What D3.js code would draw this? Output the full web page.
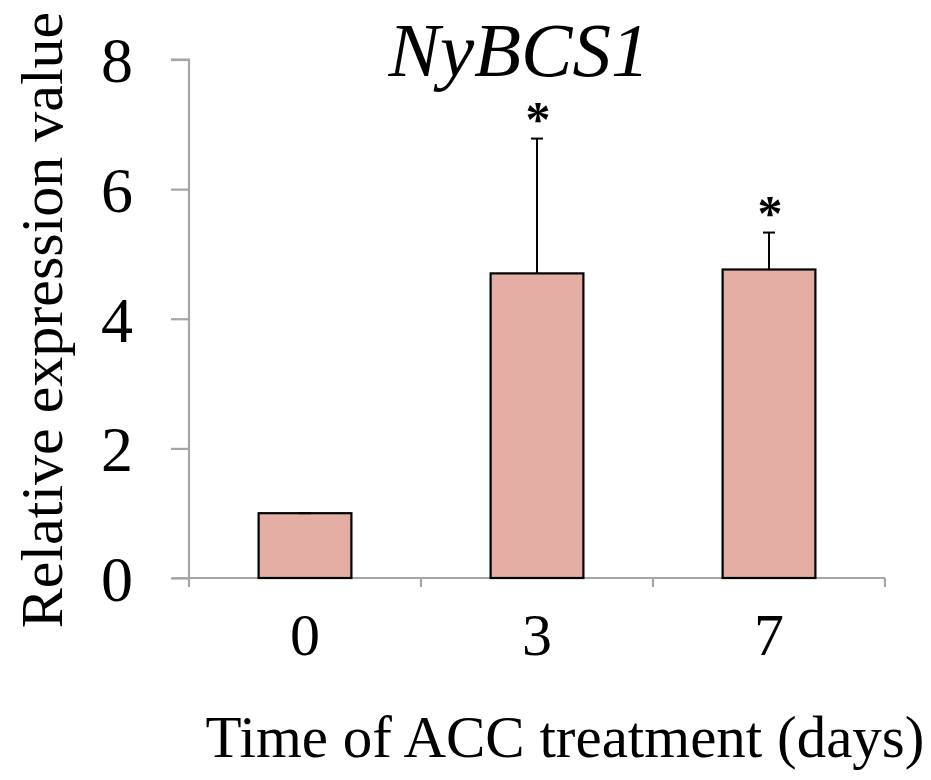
<!DOCTYPE html>
<html>
<head>
<meta charset="utf-8">
<script src="https://cdn.jsdelivr.net/npm/d3@7"></script>
<style>
  html, body { margin: 0; padding: 0; background: #fff; }
  svg { display: block; }
  text { font-family: "Liberation Serif", "Times New Roman", serif; fill: #000; }
</style>
</head>
<body>
<svg id="chart" width="931" height="780"></svg>
<script>
// ---- data ----
const categories = ["0", "3", "7"];
const values = [1.0, 4.70, 4.76];
const errors = [0.0, 2.08, 0.57];
const significant = [false, true, true];
const yTicks = [0, 2, 4, 6, 8];
const title = "NyBCS1";
const yLabel = "Relative expression value";
const xLabel = "Time of ACC treatment (days)";

// ---- layout ----
const svg = d3.select("#chart");
const x0 = 189, x1 = 885, yBase = 578, yTop = 59.5;

const x = d3.scaleBand().domain(categories).range([x0, x1])
  .paddingInner(0.6).paddingOuter(0.3);
const y = d3.scaleLinear().domain([0, 8]).range([yBase, yTop]);

const axisColor = "#a6a6a6";

// y axis
const yAxis = d3.axisLeft(y).tickValues(yTicks).tickSize(18).tickPadding(38)
  .tickFormat(d3.format("d"));
const gy = svg.append("g").attr("transform", `translate(${x0},0)`).call(yAxis);
gy.select(".domain").attr("stroke", axisColor).attr("stroke-width", 2.2)
  .attr("d", `M-18,${yTop}H0V${yBase}`);
gy.selectAll(".tick line").attr("stroke", axisColor).attr("stroke-width", 2.2);
gy.selectAll(".tick text").attr("font-size", 64).attr("font-family", "Liberation Serif")
  .attr("dy", "0.35em").attr("fill", "#000");

// x axis (ticks at band boundaries)
const boundaries = categories.map(c => x(c) - x.step() * x.paddingInner() / 2).concat([x1]);
boundaries[0] = x0;
const gx = svg.append("g");
gx.append("line").attr("x1", 172).attr("x2", x1).attr("y1", yBase).attr("y2", yBase)
  .attr("stroke", axisColor).attr("stroke-width", 2.2);
gx.selectAll("line.tk").data(boundaries).enter().append("line").attr("class", "tk")
  .attr("x1", d => d).attr("x2", d => d).attr("y1", yBase).attr("y2", yBase + 9)
  .attr("stroke", axisColor).attr("stroke-width", 2.2);
gx.selectAll("text.cat").data(categories).enter().append("text").attr("class", "cat")
  .attr("x", d => x(d) + x.bandwidth() / 2).attr("y", 634)
  .attr("dy", "0.35em").attr("text-anchor", "middle").attr("font-size", 60)
  .text(d => d);

// bars
const data = categories.map((c, i) => ({ c, v: values[i], e: errors[i], s: significant[i] }));
svg.selectAll("rect.bar").data(data).enter().append("rect").attr("class", "bar")
  .attr("x", d => x(d.c)).attr("width", x.bandwidth())
  .attr("y", d => y(d.v)).attr("height", d => yBase - y(d.v))
  .attr("fill", "#e5aea4").attr("stroke", "#000").attr("stroke-width", 2.2);

// error bars
const eb = svg.selectAll("g.err").data(data).enter().append("g").attr("class", "err");
eb.append("line")
  .attr("x1", d => x(d.c) + x.bandwidth() / 2).attr("x2", d => x(d.c) + x.bandwidth() / 2)
  .attr("y1", d => y(d.v)).attr("y2", d => y(d.v + d.e))
  .attr("stroke", "#000").attr("stroke-width", 2);
eb.append("line")
  .attr("x1", d => x(d.c) + x.bandwidth() / 2 - 6).attr("x2", d => x(d.c) + x.bandwidth() / 2 + 6)
  .attr("y1", d => y(d.v + d.e)).attr("y2", d => y(d.v + d.e))
  .attr("stroke", "#000").attr("stroke-width", 2);

// significance asterisks
svg.selectAll("text.star").data(data.filter(d => d.s)).enter().append("text").attr("class", "star")
  .attr("x", d => x(d.c) + x.bandwidth() / 2 + 1).attr("y", d => y(d.v + d.e) - 3)
  .attr("text-anchor", "middle").attr("font-size", 50).attr("font-weight", "bold")
  .text("*");

// title
svg.append("text").attr("x", 519).attr("y", 76).attr("text-anchor", "middle")
  .attr("font-size", 77).attr("font-style", "italic").text(title);

// y label
svg.append("text").attr("transform", "translate(62,320) rotate(-90)")
  .attr("text-anchor", "middle").attr("font-size", 60).text(yLabel);

// x label
svg.append("text").attr("x", 565).attr("y", 757).attr("text-anchor", "middle")
  .attr("font-size", 59).text(xLabel);
</script>
</body>
</html>
